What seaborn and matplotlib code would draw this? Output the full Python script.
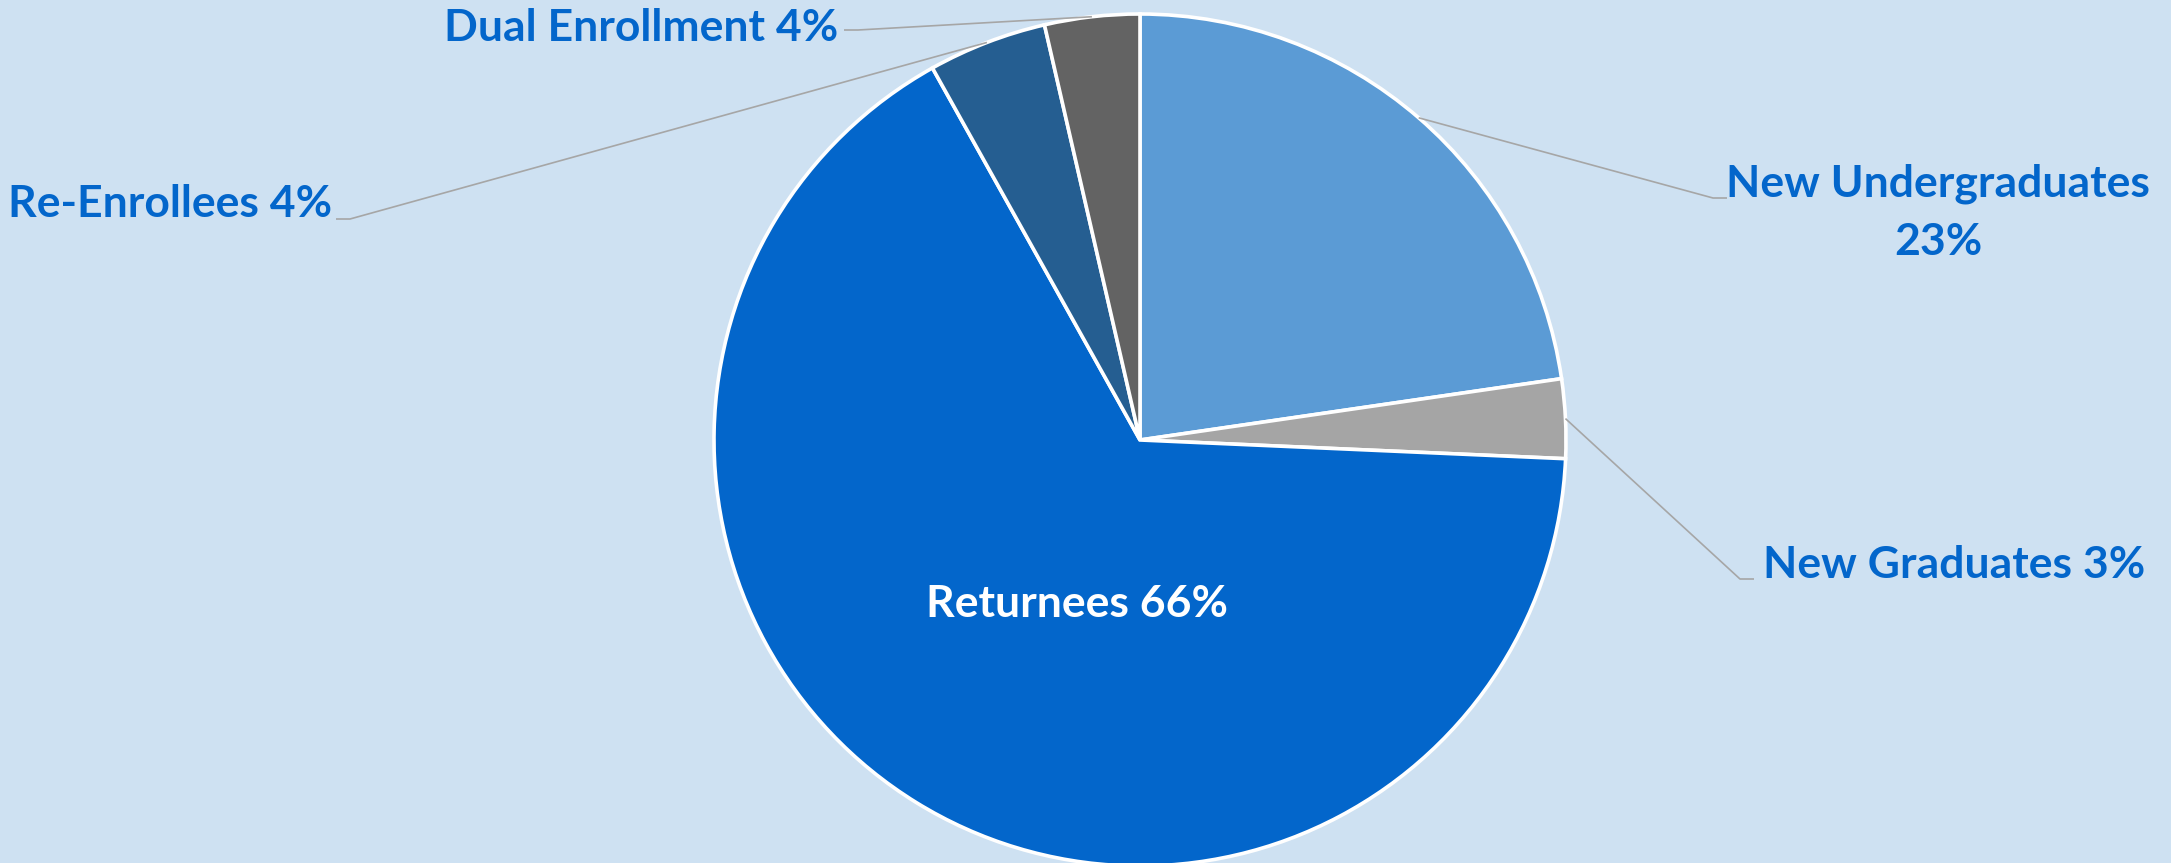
import numpy as np
import pandas as pd
import seaborn as sns
import matplotlib.pyplot as plt

# enrollment shares, label text as shown
groups = ['New Undergraduates', 'New Graduates', 'Returnees', 'Re-Enrollees', 'Dual Enrollment']
shares = [22.7, 3.0, 66.2, 4.5, 3.6]
pct_text = ['23%', '3%', '66%', '4%', '4%']
colors = ['#5B9BD5', '#A5A5A5', '#0366CB', '#255E91', '#636363']

enroll = pd.DataFrame({'group': groups, 'share': shares, 'pct': pct_text, 'color': colors})

sns.set_theme(style='white')
plt.rcParams['font.family'] = ['Lato', 'DejaVu Sans']

W, H = 2171, 863
bg = '#CEE1F2'
txt_col = '#0366CB'
line_col = '#A6A6A6'

fig = plt.figure(figsize=(W / 100, H / 100), dpi=100)
fig.patch.set_facecolor(bg)
ax = fig.add_axes([0, 0, 1, 1])
ax.set_facecolor(bg)

cx, cy, r = 1140, H - 440, 426
wedges, _ = ax.pie(enroll['share'], colors=enroll['color'], startangle=90, counterclock=False,
                   center=(cx, cy), radius=r,
                   wedgeprops=dict(edgecolor='white', linewidth=2.6))
ax.set_xlim(0, W)
ax.set_ylim(0, H)
ax.set_aspect('equal')
ax.axis('off')

fs = 32

def edge_point(w):
    a = np.deg2rad((w.theta1 + w.theta2) / 2)
    return cx + r * np.cos(a), cy + r * np.sin(a)

# label layout: (elbow x, elbow y, end x) in pixels from the top-left
leaders = {
    'New Undergraduates': (1713, 198, 1727),
    'New Graduates': (1740, 579, 1754),
    'Re-Enrollees': (350, 219, 336),
    'Dual Enrollment': (858, 30, 844),
}

for w, row in zip(wedges, enroll.itertuples()):
    if row.group == 'Returnees':
        ax.text(1077, H - 604, f'{row.group} {row.pct}', color='white', fontsize=fs,
                fontweight='bold', ha='center', va='center')
        continue
    ex, ey = edge_point(w)
    kx, ky, tx = leaders[row.group]
    ax.plot([ex, kx, tx], [ey, H - ky, H - ky], color=line_col, lw=1.2, solid_capstyle='butt')

ax.text(1938, H - 184, 'New Undergraduates', color=txt_col, fontsize=fs, fontweight='bold',
        ha='center', va='center')
ax.text(1938, H - 242, '23%', color=txt_col, fontsize=fs, fontweight='bold',
        ha='center', va='center')
ax.text(1763, H - 565, 'New Graduates 3%', color=txt_col, fontsize=fs, fontweight='bold',
        ha='left', va='center')
ax.text(332, H - 204, 'Re-Enrollees 4%', color=txt_col, fontsize=fs, fontweight='bold',
        ha='right', va='center')
ax.text(838, H - 28, 'Dual Enrollment 4%', color=txt_col, fontsize=fs, fontweight='bold',
        ha='right', va='center')

fig.savefig('out.png', dpi=100, facecolor=bg)
